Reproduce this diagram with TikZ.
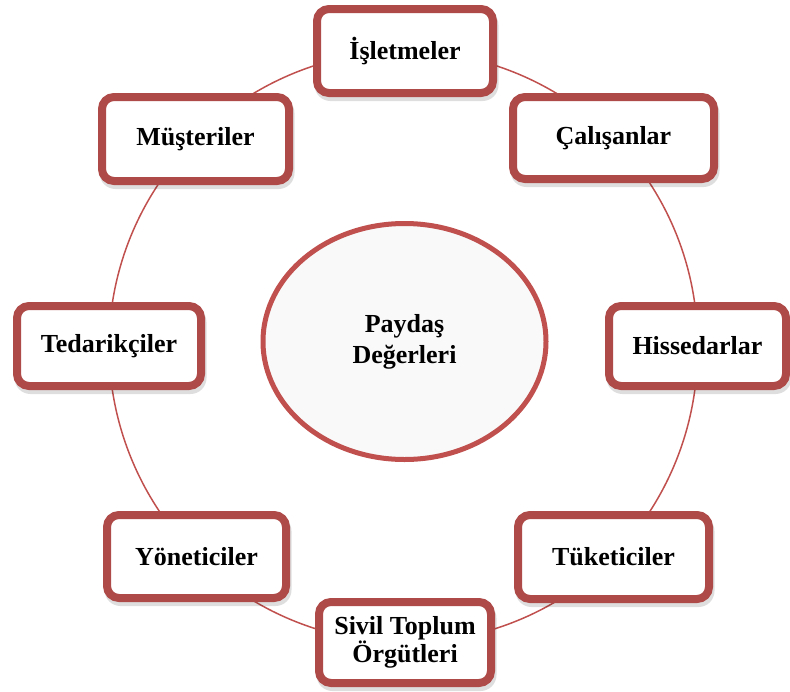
\documentclass[tikz,border=0pt]{standalone}
\usepackage{fontspec}
\setmainfont{Liberation Serif}
\usetikzlibrary{shapes.geometric,backgrounds}
\definecolor{boxred}{RGB}{174,75,72}
\definecolor{ringred}{RGB}{192,80,77}
\definecolor{ellfill}{RGB}{249,249,249}
\begin{document}
\begin{tikzpicture}[x=1pt,y=-1pt,
  stake/.style={draw=boxred, line width=8pt, fill=white, rounded corners=12pt,
    font=\fontsize{26}{25}\selectfont\bfseries, align=center, inner sep=0pt},
  ring/.style={draw=ringred, line width=1.5pt, bend left=22.5, looseness=0.885},
  core/.style={ellipse, draw=ringred, line width=5pt, fill=ellfill, inner sep=0pt,
    font=\fontsize{26}{31}\selectfont\bfseries, align=center,
    minimum width=283pt, minimum height=236pt},
  shade/.style={fill=black, opacity=0.13, rounded corners=16pt}]
\useasboundingbox (0,0) rectangle (790,691);

\node[stake, minimum width=176pt, minimum height=84pt] (isl) at (405,51) {İşletmeler};
\node[stake, minimum width=201pt, minimum height=82pt] (cal) at (613.5,138) {Çalışanlar};
\node[stake, minimum width=177pt, minimum height=80pt] (his) at (697.5,346) {Hissedarlar};
\node[stake, minimum width=191pt, minimum height=84pt] (tuk) at (613.5,557) {Tüketiciler};
\node[stake, minimum width=172pt, minimum height=81pt] (siv) at (405,642.5) {Sivil Toplum\\Örgütleri};
\node[stake, minimum width=179pt, minimum height=83pt] (yon) at (196.5,556.5) {Yöneticiler};
\node[stake, minimum width=184pt, minimum height=80pt] (ted) at (109,346) {Tedarikçiler};
\node[stake, minimum width=187pt, minimum height=84pt] (mus) at (195.5,139) {Müşteriler};

\node[core] (pd) at (404.5,341.5) {Paydaş\\Değerleri};

\begin{scope}[on background layer]
  \draw[ring] (isl.center) to (cal.center);
  \draw[ring] (cal.center) to (his.center);
  \draw[ring] (his.center) to (tuk.center);
  \draw[ring] (tuk.center) to (siv.center);
  \draw[ring] (siv.center) to (yon.center);
  \draw[ring] (yon.center) to (ted.center);
  \draw[ring] (ted.center) to (mus.center);
  \draw[ring] (mus.center) to (isl.center);
  \foreach \n in {isl,cal,his,tuk,siv,yon,ted,mus}
    \fill[shade] ([xshift=1.5pt,yshift=-4pt]\n.south west) rectangle ([xshift=1.5pt,yshift=-4pt]\n.north east);
\end{scope}
\end{tikzpicture}
\end{document}
